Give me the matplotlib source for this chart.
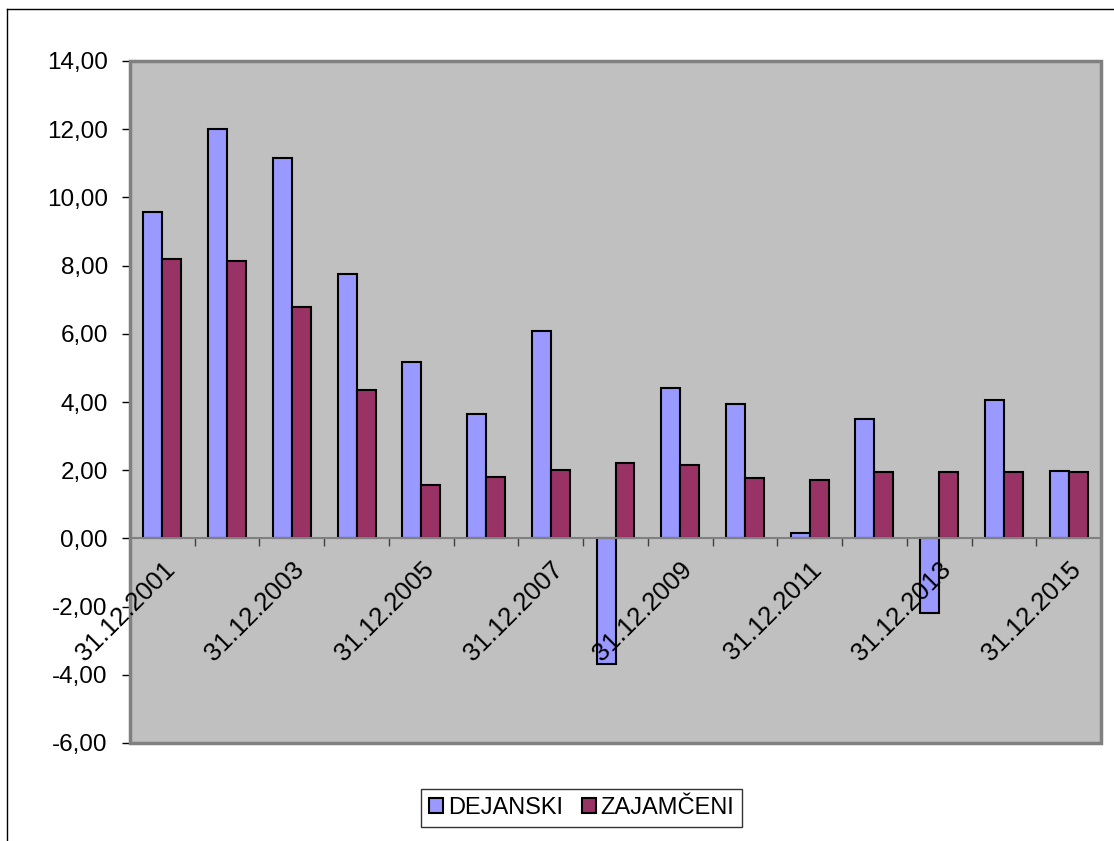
import numpy as np
import matplotlib.pyplot as plt
from matplotlib.lines import Line2D
from matplotlib.patches import Rectangle
from matplotlib.ticker import FuncFormatter
from matplotlib.transforms import ScaledTranslation

plt.rcParams['font.family'] = ['Liberation Sans', 'DejaVu Sans']

# data
years = list(range(2001, 2016))
dates = ["31.12.%d" % y for y in years]
dejanski = [9.58, 12.00, 11.15, 7.74, 5.16, 3.65, 6.07, -3.67, 4.40, 3.95, 0.17, 3.51, -2.18, 4.07, 1.99]
zajamceni = [8.19, 8.13, 6.78, 4.36, 1.57, 1.81, 2.01, 2.20, 2.14, 1.76, 1.70, 1.95, 1.95, 1.95, 1.95]
series_names = ["DEJANSKI", "ZAJAMČENI"]

fig = plt.figure(figsize=(11.14, 8.41), dpi=100)
ax = fig.add_axes([130 / 1114, 1 - 743 / 841, (1101 - 130) / 1114, (743 - 61) / 841])
ax.set_facecolor("#C0C0C0")

x = np.arange(len(years))
w = 0.293
ax.bar(x - w / 2, dejanski, w, color="#9999FF", edgecolor="black", linewidth=1.5,
       label=series_names[0], zorder=3)
ax.bar(x + w / 2, zajamceni, w, color="#993366", edgecolor="black", linewidth=1.5,
       label=series_names[1], zorder=3)

ax.set_xlim(-0.5, len(years) - 0.5)
ax.set_ylim(-6, 14)
ax.set_yticks(np.arange(-6, 15, 2))
ax.yaxis.set_major_formatter(FuncFormatter(lambda v, p: ("%.2f" % v).replace(".", ",")))
ax.tick_params(axis="y", direction="out", length=6, width=1, color="black",
               labelsize=17.5, pad=10)

# category axis sits at zero
ax.spines["bottom"].set_position(("data", 0))
ax.spines["bottom"].set_color("#808080")
ax.spines["bottom"].set_linewidth(1.5)
ax.spines["bottom"].set_zorder(4)
for s in ["top", "right"]:
    ax.spines[s].set_visible(False)
ax.spines["left"].set_color("#808080")
ax.spines["left"].set_linewidth(2)

ax.set_xticks(x)
ax.set_xticklabels([])
ax.tick_params(axis="x", which="major", length=0)
ax.set_xticks(np.arange(-0.5, len(years), 1)[1:], minor=True)
ax.tick_params(axis="x", which="minor", direction="out", length=6, width=1, color="#404040")

# rotated category labels, drawn over the bars like the original
shift = ax.transData + ScaledTranslation(0, -19 / 100, fig.dpi_scale_trans)
for i, d in enumerate(dates):
    if i % 2 == 0:
        ax.text(i, 0, d, transform=shift, rotation=45, ha="right", va="top",
                rotation_mode="anchor", fontsize=18.5, zorder=6, clip_on=False)

# plot area frame
ax.add_patch(Rectangle((0, 0), 1, 1, transform=ax.transAxes, fill=False,
                       edgecolor="#808080", linewidth=2.5, zorder=5, clip_on=False))

# chart area border (top and left only visible)
fig.add_artist(Line2D([7 / 1114, 1], [1 - 9 / 841, 1 - 9 / 841], color="black", linewidth=1))
fig.add_artist(Line2D([7 / 1114, 7 / 1114], [0, 1 - 9 / 841], color="black", linewidth=1))

leg = fig.legend(loc="center", bbox_to_anchor=(581.5 / 1114, 1 - 808 / 841), ncol=2,
                 fontsize=17, frameon=True, fancybox=False, edgecolor="black",
                 handlelength=0.6, handleheight=0.6, handletextpad=0.2, columnspacing=0.8,
                 borderpad=0.35, borderaxespad=0)
leg.get_frame().set_linewidth(1)

fig.savefig("out.png", dpi=100)
